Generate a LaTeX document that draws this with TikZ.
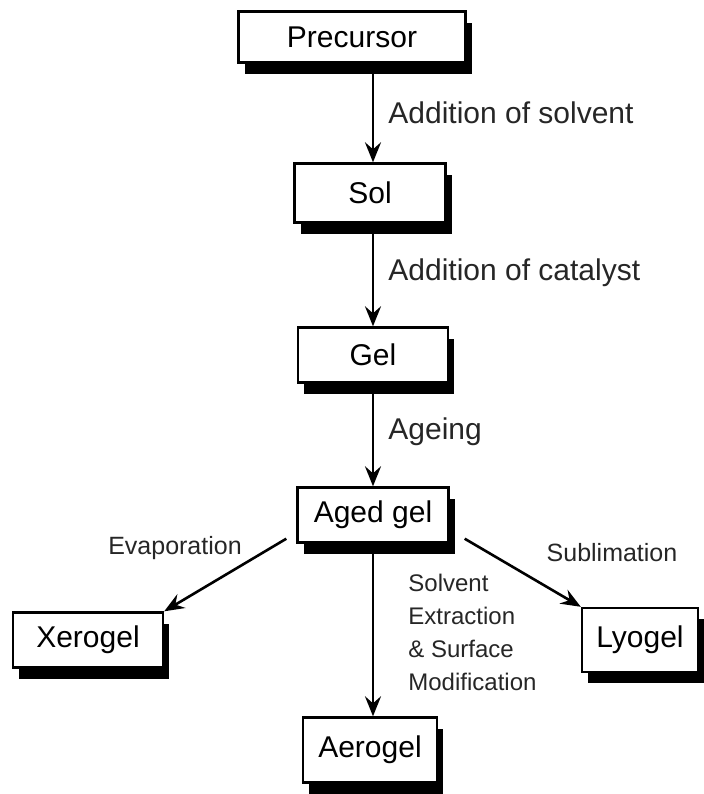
\documentclass[tikz,border=0pt]{standalone}
\usepackage{fontspec}
\setmainfont{Liberation Sans}
\usetikzlibrary{
  arrows.meta,
  positioning,
  shadows,
  calc
}
\tikzset{
  stagebox/.style={draw, line width=1.2pt, fill=white, inner sep=0pt,
    minimum height=27.5pt, font=\fontsize{15}{18}\selectfont,
    drop shadow={shadow xshift=3pt, shadow yshift=-5.5pt, fill=black, opacity=1}},
  steplabel/.style={anchor=west, inner sep=0pt, text=black!85,
    font=\fontsize{15}{18}\selectfont},
  sidelabel/.style={inner sep=0pt, text=black!85,
    font=\fontsize{12.5}{15}\selectfont},
  arr/.style={-{Stealth[length=10pt, width=8pt, inset=3.5pt]}, line width=1.3pt},
}

\begin{document}
\begin{tikzpicture}[x=0.5pt, y=-0.5pt]
  \useasboundingbox (0,0) rectangle (704,794);

  % main chain
  \node[stagebox, minimum width=113.5pt, minimum height=25.5pt] (pre) at (352,37) {Precursor};
  \node[stagebox, minimum width=75.5pt, minimum height=29.5pt] (sol) at (370,193) {Sol};
  \node[stagebox, minimum width=75pt] (gel) at (373,355) {Gel};
  \node[stagebox, minimum width=75.5pt] (aged) at (373,515) {Aged gel};

  % end products
  \node[stagebox, minimum width=75pt] (xero) at (88,640) {Xerogel};
  \node[stagebox, minimum width=58pt, minimum height=32pt] (lyo) at (640,640) {Lyogel};
  \node[stagebox, minimum width=67pt, minimum height=32.5pt] (aero) at (370,750) {Aerogel};

  % steps
  \draw[arr] (pre.south -| aged) -- (sol.north -| aged);
  \draw[arr] (sol.south -| aged) -- (gel.north -| aged);
  \draw[arr] (gel.south) -- (aged.north);
  \draw[arr] (aged.south) -- (aero.north -| aged);
  \draw[arr] ($(aged.south west)+(-10,-5)$) -- (xero.north east);
  \draw[arr] ($(aged.south east)+(15,-5)$) -- (lyo.north west);

  % labels
  \node[steplabel] (solvlab) at (388,113) {Addition of solvent};
  \node[steplabel] (catlab) at (388,273) {Addition of catalyst};
  \node[steplabel] (agelab) at (388,432) {Ageing};
  \node[sidelabel] (evaplab) at (175,548) {Evaporation};
  \node[sidelabel] (sublab) at (612,553) {Sublimation};
  \node[sidelabel, anchor=north west, align=left,
    font=\fontsize{12}{16.5}\selectfont] (extlab) at (408,574)
    {Solvent\\Extraction\\\& Surface\\Modification};
\end{tikzpicture}
\end{document}
